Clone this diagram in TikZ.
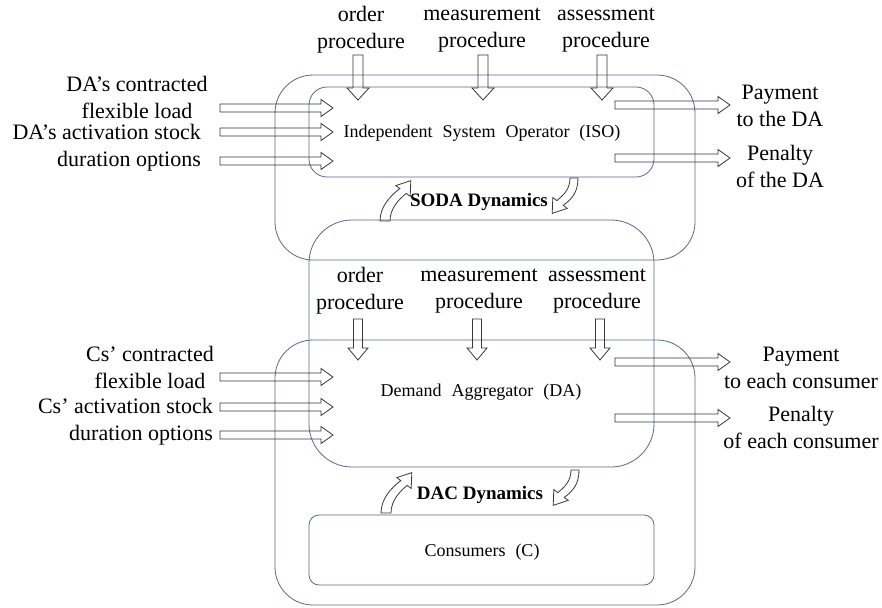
\documentclass[tikz,border=0pt]{standalone}
\usepackage{fontspec}
\setmainfont{Liberation Serif}
\usetikzlibrary{calc}
\definecolor{boxblue}{RGB}{84,106,142}
\definecolor{arrowgray}{RGB}{55,55,55}
% hollow block arrow: from, to, half shaft, half head
\newcommand{\barrow}[4]{%
  \path ($(#2)!12pt!(#1)$) coordinate (hb);
  \draw[blockline] ($(#1)!#3!90:(#2)$) -- ($(hb)!#3!90:(#2)$) -- ($(hb)!#4!90:(#2)$) -- (#2)
    -- ($(hb)!#4!-90:(#2)$) -- ($(hb)!#3!-90:(#2)$) -- ($(#1)!#3!-90:(#2)$) -- cycle;}
\newcommand{\wsp}{\hspace{10pt}}
\begin{document}
\begin{tikzpicture}[x=1pt,y=-1pt]
        \tikzstyle{box}=[draw=boxblue,line width=0.8pt]
        \tikzstyle{blockline}=[draw=arrowgray,line width=0.8pt,line join=miter]
        \tikzstyle{lbl}=[inner sep=0pt,align=center,font=\fontsize{22}{27}\selectfont]
        \tikzstyle{inbox}=[inner sep=0pt,font=\fontsize{18}{22}\selectfont]
        \tikzstyle{dyn}=[inner sep=0pt,font=\fontsize{19}{22}\selectfont\bfseries]
        \useasboundingbox (0,0) rectangle (882,607);
       % boxes
       \draw[box,rounded corners=38pt] (275,75) rectangle (695,260);
       \draw[box,rounded corners=18pt] (309,87) rectangle (654,177);
       \draw[box,rounded corners=43pt] (309,220) rectangle (654,467);
       \draw[box,rounded corners=38pt] (275,340) rectangle (695,605);
       \draw[box,rounded corners=10pt] (309,515) rectangle (654,585);
       \node [inbox] (iso) at (482,133) {Independent\wsp System\wsp Operator\wsp (ISO)};
       \node [inbox] (da) at (481,392) {Demand\wsp Aggregator\wsp (DA)};
       \node [inbox] (cons) at (482,552) {Consumers\wsp (C)};
       \node [dyn] (soda) at (479,202) {SODA Dynamics};
       \node [dyn] (dac) at (480,495) {DAC Dynamics};
       % ISO level
       \node [lbl] (ordtop) at (361,30) {order\\procedure};
       \node [lbl] (meastop) at (482,30) {measurement\\procedure};
       \node [lbl] (asstop) at (606,30) {assessment\\procedure};
       \node [lbl] (daload) at (137,97) {DA’s contracted\\flexible load};
       \node [lbl,align=right,anchor=east] (dastock) at (201,148) {DA’s activation stock\\duration options};
       \node [lbl] (payda) at (780,106) {Payment\\to the DA};
       \node [lbl] (penda) at (780,166) {Penalty\\of the DA};
       \coordinate (o1) at (358,55);  \coordinate (o2) at (358,100);
       \coordinate (m1) at (483,55);  \coordinate (m2) at (483,100);
       \coordinate (a1) at (602,55);  \coordinate (a2) at (602,100);
       \coordinate (l1) at (220,108); \coordinate (l2) at (333,108);
       \coordinate (s1) at (220,132); \coordinate (s2) at (333,132);
       \coordinate (d1) at (220,161); \coordinate (d2) at (333,161);
       \coordinate (p1) at (615,105); \coordinate (p2) at (730,105);
       \coordinate (n1) at (615,158); \coordinate (n2) at (730,158);
       \barrow{o1}{o2}{5pt}{11pt}
       \barrow{m1}{m2}{5pt}{11pt}
       \barrow{a1}{a2}{5pt}{11pt}
       \barrow{l1}{l2}{4pt}{8.5pt}
       \barrow{s1}{s2}{4pt}{8.5pt}
       \barrow{d1}{d2}{4pt}{8.5pt}
       \barrow{p1}{p2}{4pt}{8.5pt}
       \barrow{n1}{n2}{4pt}{8.5pt}
       % DA level
       \node [lbl] (ordmid) at (360,291) {order\\procedure};
       \node [lbl] (measmid) at (479,291) {measurement\\procedure};
       \node [lbl] (assmid) at (597,291) {assessment\\procedure};
       \node [lbl] (csload) at (150,367) {Cs’ contracted\\flexible load};
       \node [lbl,align=right,anchor=east] (csstock) at (213,422) {Cs’ activation stock\\duration options};
       \node [lbl] (paycs) at (801,368) {Payment\\to each consumer};
       \node [lbl] (pencs) at (801,427) {Penalty\\of each consumer};
       \coordinate (oo1) at (358,319); \coordinate (oo2) at (358,360);
       \coordinate (mm1) at (477,319); \coordinate (mm2) at (477,360);
       \coordinate (aa1) at (600,319); \coordinate (aa2) at (600,360);
       \coordinate (ll1) at (220,377); \coordinate (ll2) at (333,377);
       \coordinate (ss1) at (220,407); \coordinate (ss2) at (333,407);
       \coordinate (dd1) at (220,435); \coordinate (dd2) at (333,435);
       \coordinate (pp1) at (615,362); \coordinate (pp2) at (730,362);
       \coordinate (nn1) at (615,418); \coordinate (nn2) at (730,418);
       \barrow{oo1}{oo2}{4.5pt}{10pt}
       \barrow{mm1}{mm2}{4.5pt}{10pt}
       \barrow{aa1}{aa2}{4.5pt}{10pt}
       \barrow{ll1}{ll2}{4pt}{8.5pt}
       \barrow{ss1}{ss2}{4pt}{8.5pt}
       \barrow{dd1}{dd2}{4pt}{8.5pt}
       \barrow{pp1}{pp2}{4pt}{8.5pt}
       \barrow{nn1}{nn2}{4pt}{8.5pt}
       % curved dynamics arrows
       \begin{scope}
         \draw[blockline] (380,221) .. controls (380,207) and (390,196) .. (399.8,188.6) -- (395.8,185.6) -- (410.8,180.6)
           -- (410.2,196.4) -- (406.2,193.4) .. controls (398,200) and (390,209) .. (390,221) -- cycle;
         \draw[blockline] (578,178) .. controls (578,192) and (572,199) .. (563.2,205.4) -- (567.2,208.4) -- (552.2,213.4)
           -- (552.8,197.6) -- (556.8,200.6) .. controls (565,194) and (570,188) .. (570,178) -- cycle;
       \end{scope}
       \begin{scope}[shift={(1,292)}]
         \draw[blockline] (380,221) .. controls (380,207) and (390,196) .. (399.8,188.6) -- (395.8,185.6) -- (410.8,180.6)
           -- (410.2,196.4) -- (406.2,193.4) .. controls (398,200) and (390,209) .. (390,221) -- cycle;
         \draw[blockline] (578,178) .. controls (578,192) and (572,199) .. (563.2,205.4) -- (567.2,208.4) -- (552.2,213.4)
           -- (552.8,197.6) -- (556.8,200.6) .. controls (565,194) and (570,188) .. (570,178) -- cycle;
       \end{scope}
      \end{tikzpicture}
\end{document}
